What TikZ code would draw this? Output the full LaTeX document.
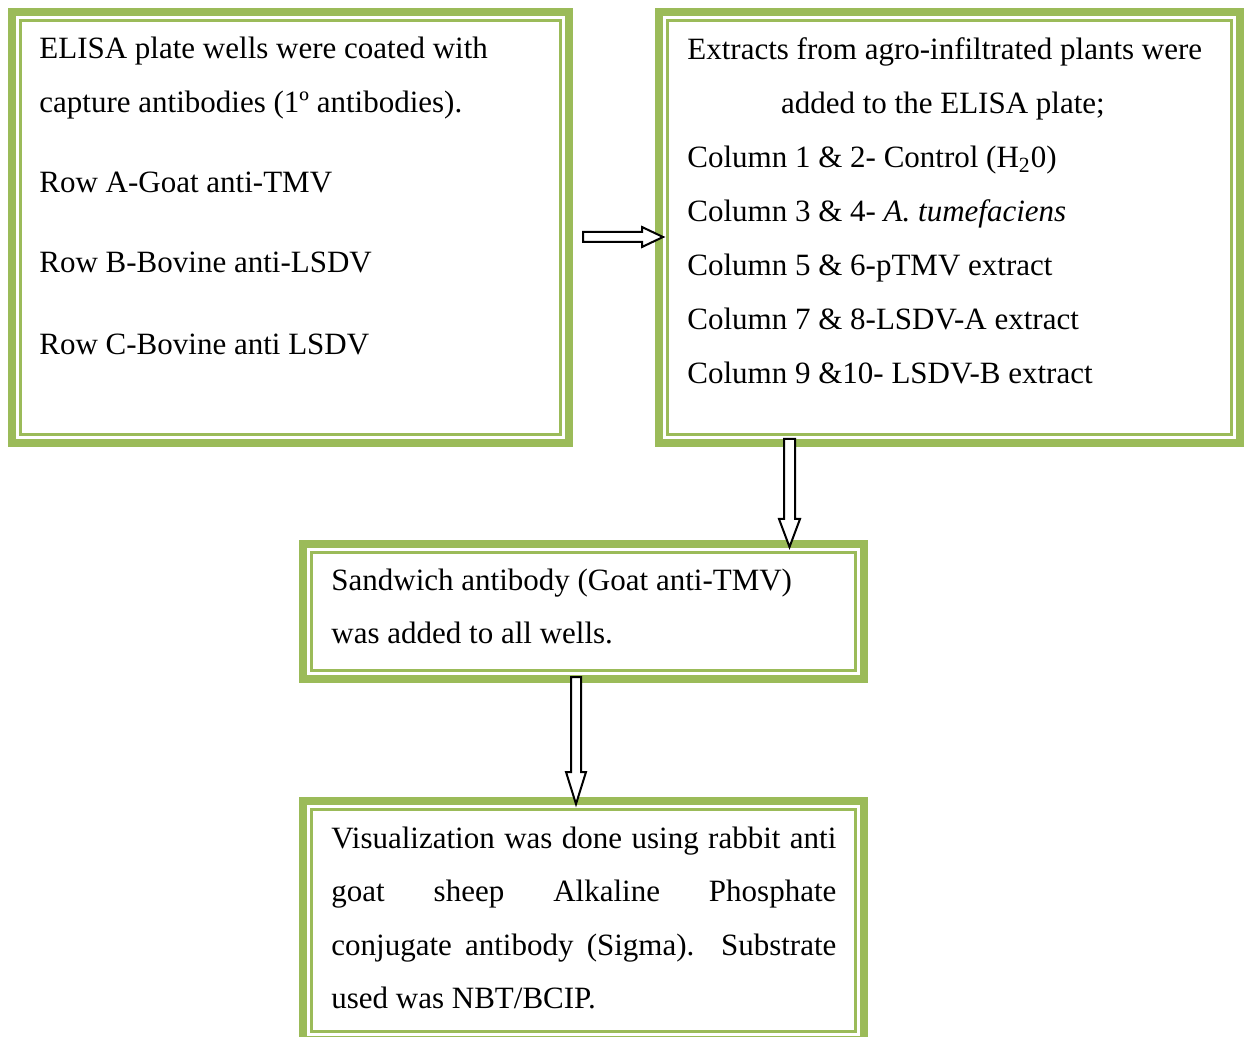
\documentclass[tikz,border=0pt]{standalone}
\usepackage{fontspec}
\setmainfont{Liberation Serif}
\definecolor{olivebar}{HTML}{9BBB59}

\begin{document}
\begin{tikzpicture}[x=0.5pt,y=-0.5pt,
  panel/.style={draw=olivebar, line width=4pt, outer sep=0pt, inner sep=0pt},
  rim/.style={draw=olivebar, line width=1.1pt},
  note/.style={inner sep=0pt, align=flush left, anchor=base west, font=\fontsize{15.5}{26.75}\selectfont},
  fatarrow/.style={draw=black, fill=white, line width=1pt, line join=miter}]
  \useasboundingbox (0,0) rectangle (1248,1037);
  \node[panel, minimum width=278.5pt, minimum height=215.5pt] (coat) at (290.5,227.5) {};
  \node[panel, minimum width=290.5pt, minimum height=215.5pt] (extract) at (949.5,227.5) {};
  \node[panel, minimum width=280.5pt, minimum height=67.5pt] (sandwich) at (583.5,611.5) {};
  \node[panel, minimum width=280.5pt, minimum height=119.5pt] (visual) at (583.5,920.5) {};
  \foreach \b in {coat,extract,sandwich,visual}
    \draw[rim] ([shift={(8.5,8.5)}]\b.north west) rectangle ([shift={(-8.5,-8.5)}]\b.south east);

  \node[note, text width=250pt] (coattext) at ([shift={(27,47)}]coat.north west)
    {ELISA plate wells were coated with\\ capture antibodies (1º antibodies).\\[13.5pt]
     Row A-Goat anti-TMV\\[13pt] Row B-Bovine anti-LSDV\\[14.5pt] Row C-Bovine anti LSDV};
  \node[note, text width=259pt, font=\fontsize{15.5}{27}\selectfont] (extracttext) at ([shift={(28,48)}]extract.north west)
    {Extracts from agro-infiltrated plants were\\
     \makebox[255.5pt][c]{added to the ELISA plate;}\\
     Column 1 \& 2- Control (H\textsubscript{2}0)\\
     Column 3 \& 4- \textit{A. tumefaciens}\\
     Column 5 \& 6-pTMV extract\\
     Column 7 \& 8-LSDV-A extract\\
     Column 9 \&10- LSDV-B extract};
  \node[note, text width=250pt] (sandwichtext) at ([shift={(28,46)}]sandwich.north west)
    {Sandwich antibody (Goat anti-TMV)\\ was added to all wells.};
  \node[note, text width=252.5pt, align=justify] (visualtext) at ([shift={(28,47)}]visual.north west)
    {Visualization was done using rabbit anti\linebreak goat sheep Alkaline Phosphate\linebreak
     conjugate antibody (Sigma). Substrate\linebreak used was NBT/BCIP.};

  \coordinate (r1) at ([shift={(14,9.5)}]coat.east);
  \coordinate (r2) at ([shift={(4,9.5)}]extract.west);
  \coordinate (d1) at ([shift={(-160,-4)}]extract.south);
  \coordinate (d2) at ([shift={(206,3)}]sandwich.north);
  \coordinate (e1) at ([shift={(-7.5,-2)}]sandwich.south);
  \coordinate (e2) at ([shift={(-7.5,3)}]visual.north);
  \draw[fatarrow] ([shift={(0,-5)}]r1) -| ([shift={(-21,-10)}]r2) -- (r2) -- ([shift={(-21,10)}]r2) |- ([shift={(0,5)}]r1) -- cycle;
  \draw[fatarrow] ([shift={(-5.5,0)}]d1) |- ([shift={(-10.5,-28)}]d2) -- (d2) -- ([shift={(10.5,-28)}]d2) -| ([shift={(5.5,0)}]d1) -- cycle;
  \draw[fatarrow] ([shift={(-5,0)}]e1) |- ([shift={(-10,-32)}]e2) -- (e2) -- ([shift={(10,-32)}]e2) -| ([shift={(5,0)}]e1) -- cycle;
\end{tikzpicture}
\end{document}
